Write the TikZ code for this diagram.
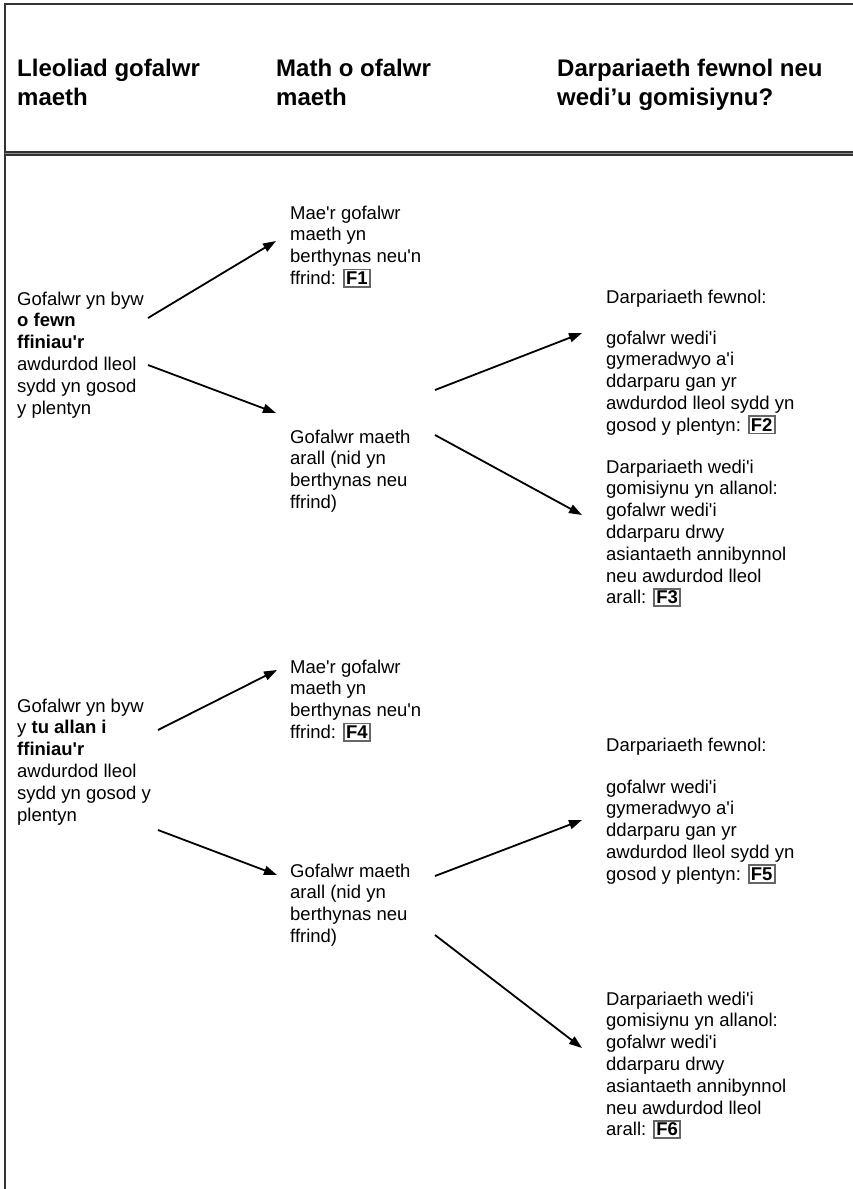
\documentclass[tikz,border=0pt]{standalone}
\usepackage{fontspec}
\setmainfont{Liberation Sans}
\usetikzlibrary{arrows.meta}
\newcommand{\fref}[1]{{\setlength{\fboxsep}{1.3pt}\setlength{\fboxrule}{1.8pt}\fcolorbox{black!60}{white}{\textbf{#1}}}}
\newcommand{\ap}{\XeTeXglyph\XeTeXcharglyph"27\relax}
\begin{document}
\begin{tikzpicture}[x=1pt,y=-1pt,
  txt/.style={anchor=north west, align=left, inner sep=0pt, font=\fontsize{18.5}{21.8}\selectfont},
  hdr/.style={anchor=north west, align=left, inner sep=0pt, font=\fontsize{24}{29}\selectfont\bfseries},
  arr/.style={-{Triangle[length=13pt,width=9pt]}, line width=1.8pt},
  frame/.style={line width=2pt, black!80}]
\useasboundingbox (0,0) rectangle (853,1189);
\fill[white] (0,0) rectangle (853,1189);
% frame
\draw[frame] (4.5,1189) -- (4.5,4) -- (853,4);
\draw[line width=5pt, black!80] (4.5,153.5) -- (853,153.5);
\draw[line width=1.2pt, black!45] (4.5,153.5) -- (853,153.5);
% headers
\node[hdr] (h1) at (17,59) {Lleoliad gofalwr\\maeth};
\node[hdr] (h2) at (276,59) {Math o ofalwr\\maeth};
\node[hdr] (h3) at (557,59) {Darpariaeth fewnol neu\\wedi’u gomisiynu?};
% column 1
\node[txt] (a1) at (17,291.5) {Gofalwr yn byw\\\textbf{o fewn}\\\textbf{ffiniau\ap r}\\awdurdod lleol\\sydd yn gosod\\y plentyn};
\node[txt] (a2) at (17,698.5) {Gofalwr yn byw\\y \textbf{tu allan i}\\\textbf{ffiniau\ap r}\\awdurdod lleol\\sydd yn gosod y\\plentyn};
% column 2
\node[txt] (b1) at (290,205.5) {Mae\ap r gofalwr\\maeth yn\\berthynas neu\ap n\\ffrind: \fref{F1}};
\node[txt] (b2) at (290,429.5) {Gofalwr maeth\\arall (nid yn\\berthynas neu\\ffrind)};
\node[txt] (b3) at (290,659.5) {Mae\ap r gofalwr\\maeth yn\\berthynas neu\ap n\\ffrind: \fref{F4}};
\node[txt] (b4) at (290,863.5) {Gofalwr maeth\\arall (nid yn\\berthynas neu\\ffrind)};
% column 3
\node[txt] (c1) at (606,289.5) {Darpariaeth fewnol:};
\node[txt] (c2) at (606,330.5) {gofalwr wedi\ap i\\gymeradwyo a\ap i\\ddarparu gan yr\\awdurdod lleol sydd yn\\gosod y plentyn: \fref{F2}};
\node[txt] (c3) at (606,459.5) {Darpariaeth wedi\ap i\\gomisiynu yn allanol:\\gofalwr wedi\ap i\\ddarparu drwy\\asiantaeth annibynnol\\neu awdurdod lleol\\arall: \fref{F3}};
\node[txt] (c4) at (606,737.5) {Darpariaeth fewnol:};
\node[txt] (c5) at (606,779.5) {gofalwr wedi\ap i\\gymeradwyo a\ap i\\ddarparu gan yr\\awdurdod lleol sydd yn\\gosod y plentyn: \fref{F5}};
\node[txt] (c6) at (606,991.5) {Darpariaeth wedi\ap i\\gomisiynu yn allanol:\\gofalwr wedi\ap i\\ddarparu drwy\\asiantaeth annibynnol\\neu awdurdod lleol\\arall: \fref{F6}};
% arrow end points
\coordinate (s1) at (148,318); \coordinate (e1) at (276,241);
\coordinate (s2) at (148,365); \coordinate (e2) at (276,413);
\coordinate (s3) at (435,390); \coordinate (e3) at (582,333);
\coordinate (s4) at (435,435); \coordinate (e4) at (582,515);
\coordinate (s5) at (158,730); \coordinate (e5) at (277,670);
\coordinate (s6) at (158,830); \coordinate (e6) at (277,875);
\coordinate (s7) at (435,876); \coordinate (e7) at (582,820);
\coordinate (s8) at (435,935); \coordinate (e8) at (582,1048);
\draw[arr] (s1) -- (e1);
\draw[arr] (s2) -- (e2);
\draw[arr] (s3) -- (e3);
\draw[arr] (s4) -- (e4);
\draw[arr] (s5) -- (e5);
\draw[arr] (s6) -- (e6);
\draw[arr] (s7) -- (e7);
\draw[arr] (s8) -- (e8);
\end{tikzpicture}
\end{document}
